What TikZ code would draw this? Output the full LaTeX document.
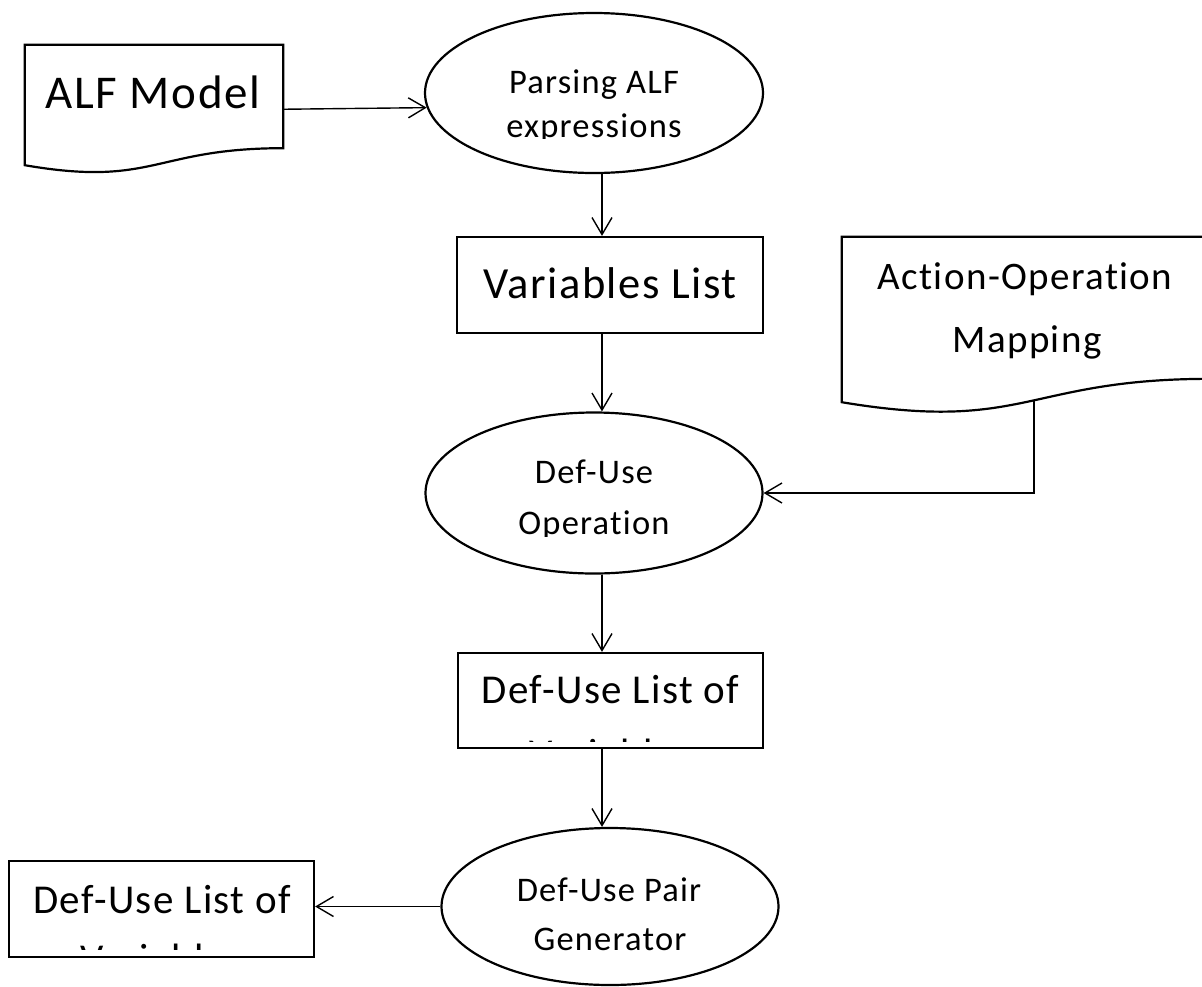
\documentclass[tikz,border=0pt]{standalone}
\usepackage{fontspec}
\setmainfont{Carlito}[Ligatures=NoCommon, LetterSpace=3.5]
\usetikzlibrary{shapes.geometric,arrows.meta,calc}

% document outline (flat top, wavy bottom) drawn around a framing node
\newcommand\drawdocument[1]{%
  \draw[shapeline] (#1.north west) -- (#1.north east)
    -- ($(#1.north east)!0.802!(#1.south east)$)
    .. controls ($(#1.north)!0.802!(#1.south)$) and ($(#1.north)!1.1075!(#1.south)$)
    .. ($(#1.north west)!0.934!(#1.south west)$) -- cycle;}

\begin{document}
\begin{tikzpicture}[x=1pt,y=-1pt,
  shapeline/.style={draw=black, line width=2.2pt, line join=miter},
  boxnode/.style={shapeline, rectangle, inner sep=0pt},
  ovalnode/.style={shapeline, ellipse, inner sep=0pt},
  docframe/.style={rectangle, inner sep=0pt},
  conn/.style={draw=black, line width=1.4pt,
    -{Straight Barb[length=17pt,width=20pt,line width=1.4pt]}},
  txt/.style={anchor=base, inner sep=0pt},
  bigtxt/.style={txt, font=\fontsize{47}{50}\selectfont},
  boxtxt/.style={txt, font=\fontsize{44.5}{48}\selectfont},
  listtxt/.style={txt, font=\fontsize{41}{44}\selectfont},
  doctxt/.style={txt, font=\fontsize{39}{42}\selectfont},
  ovaltxt/.style={txt, font=\fontsize{34.5}{38}\selectfont},
]
\clip (0,0) rectangle (1202,986);

% ---- shapes ----
\node[docframe, minimum width=258pt, minimum height=128.5pt] (alf) at (154,109.25) {};
\drawdocument{alf}
\node[ovalnode, minimum width=338pt, minimum height=160pt] (parse) at (594,93) {};
\node[boxnode, minimum width=306pt, minimum height=96pt] (var) at (610,285) {};
\node[docframe, minimum width=368pt, minimum height=176.7pt] (aom) at (1026,325.35) {};
\drawdocument{aom}
\node[ovalnode, minimum width=337pt, minimum height=161pt] (duop) at (594,493) {};
\node[boxnode, minimum width=305pt, minimum height=95pt] (dulist) at (610.5,700.5) {};
\node[ovalnode, minimum width=337pt, minimum height=157pt] (gen) at (610,906.5) {};
\node[boxnode, minimum width=305pt, minimum height=96pt] (vout) at (161.5,909) {};

% ---- texts ----
\node[bigtxt] (alft) at (153,108) {ALF Model};
\node[ovaltxt] (parset1) at (594,93) {Parsing ALF};
\begin{scope}
  \clip (430,100) rectangle (760,138);
  \node[ovaltxt] (parset2) at (594,137) {expressions};
\end{scope}
\node[boxtxt] (vart) at (610,298) {Variables List};
\node[doctxt] (aomt1) at (1025,289) {Action-Operation};
\node[doctxt] (aomt2) at (1027,352) {Mapping};
\node[ovaltxt] (duopt1) at (594,483) {Def-Use};
\begin{scope}
  \clip (430,490) rectangle (760,536);
  \node[ovaltxt] (duopt2) at (594,534) {Operation};
\end{scope}
\node[listtxt] (dulistt1) at (610.5,703) {Def-Use List of};
\begin{scope}
  \clip (460,720) rectangle (760,741);
  \node[listtxt] (dulistt2) at (610.5,767) {Variables};
\end{scope}
\node[ovaltxt] (gent1) at (609,901) {Def-Use Pair};
\node[ovaltxt] (gent2) at (610,950) {Generator};
\node[listtxt] (voutt1) at (162,913) {Def-Use List of};
\begin{scope}
  \clip (12,925) rectangle (311,949);
  \node[listtxt] (voutt2) at (162,972) {Variables};
\end{scope}

% ---- connectors ----
\coordinate (spine) at (602,0);
\coordinate (tap) at (1034,400);
\draw[conn] (alf.east) -- (parse.185.5);
\draw[conn] (parse.south -| spine) -- (var.north -| spine);
\draw[conn] (var.south -| spine) -- (duop.north -| spine);
\draw[conn] (tap) |- (duop.east);
\draw[conn] (duop.south -| spine) -- (dulist.north -| spine);
\draw[conn] (dulist.south -| spine) -- (gen.north -| spine);
\draw[conn] (gen.west) -- (gen.west -| vout.east);
\end{tikzpicture}
\end{document}
